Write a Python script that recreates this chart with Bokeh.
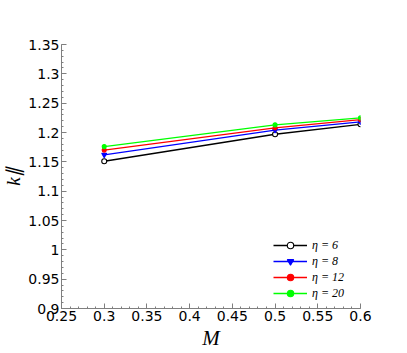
from bokeh.plotting import figure
from bokeh.models import Legend, LegendItem, Range1d, FixedTicker, CustomJSTickFormatter
from bokeh.embed import file_html
from bokeh.resources import INLINE

M = [0.3, 0.5, 0.6]
k_eta6 = [1.151, 1.197, 1.214]
k_eta8 = [1.162, 1.204, 1.218]
k_eta12 = [1.170, 1.208, 1.222]
k_eta20 = [1.176, 1.213, 1.225]
labels = ["η = 6", "η = 8", "η = 12", "η = 20"]
x_ticks = [0.25, 0.3, 0.35, 0.4, 0.45, 0.5, 0.55, 0.6]
y_ticks = [0.9, 0.95, 1.0, 1.05, 1.1, 1.15, 1.2, 1.25, 1.3, 1.35]

p = figure(frame_width=299, frame_height=264, output_backend="svg", toolbar_location=None,
           x_range=Range1d(0.25, 0.6), y_range=Range1d(0.9, 1.35),
           min_border_left=56, min_border_right=40, min_border_top=44, min_border_bottom=40)
p.grid.visible = False
p.outline_line_color = None
p.background_fill_color = "white"
p.border_fill_color = "white"

fmt = CustomJSTickFormatter(code="return String(parseFloat(tick.toFixed(2)));")
for ax, ticks in ((p.xaxis[0], x_ticks), (p.yaxis[0], y_ticks)):
    ax.ticker = FixedTicker(ticks=ticks, minor_ticks=[round(ticks[0] + i * 0.01, 3) for i in range(int(round((ticks[-1] - ticks[0]) / 0.01)) + 1)])
    ax.formatter = fmt
    ax.axis_line_color = "#7f7f7f"
    ax.major_tick_line_color = "#7f7f7f"
    ax.minor_tick_line_color = "#7f7f7f"
    ax.major_tick_in = 5
    ax.major_tick_out = 0
    ax.minor_tick_in = 2
    ax.minor_tick_out = 0
    ax.major_label_text_font = "DejaVu Sans"
    ax.major_label_text_font_size = "14px"
    ax.major_label_text_color = "black"
    ax.axis_label_text_font = "Liberation Serif"
    ax.axis_label_text_font_style = "italic"
    ax.axis_label_text_color = "black"

p.xaxis.major_label_standoff = 2
p.yaxis.major_label_standoff = 2
p.xaxis.axis_label = "M"
p.xaxis.axis_label_text_font_size = "21px"
p.xaxis.axis_label_standoff = 2
p.yaxis.axis_label = "k∥"
p.yaxis.axis_label_text_font_size = "19px"
p.yaxis.axis_label_standoff = 1

series = [
    (k_eta6, "black", "circle", "white", 5),
    (k_eta8, "#0000ff", "inverted_triangle", "#0000ff", 5),
    (k_eta12, "#ff0000", "circle", "#ff0000", 4),
    (k_eta20, "#00ff00", "circle", "#00ff00", 4),
]
items = []
for (ys, col, mk, fill, sz), lab in zip(series, labels):
    r1 = p.line(M, ys, line_color=col, line_width=1.3)
    r2 = p.scatter(M, ys, marker=mk, size=sz, line_color=col, fill_color=fill, line_width=1.1)
    items.append(LegendItem(label=lab, renderers=[r1, r2]))

legend = Legend(items=items, location=(212, 7), padding=0, margin=0, spacing=0,
                border_line_alpha=0, background_fill_alpha=0,
                glyph_width=34, glyph_height=16, label_height=16, label_standoff=5,
                label_text_font="Liberation Serif", label_text_font_style="italic",
                label_text_font_size="12px", label_text_color="black")
p.add_layout(legend)

open("out.html", "w").write(file_html(p, INLINE))
